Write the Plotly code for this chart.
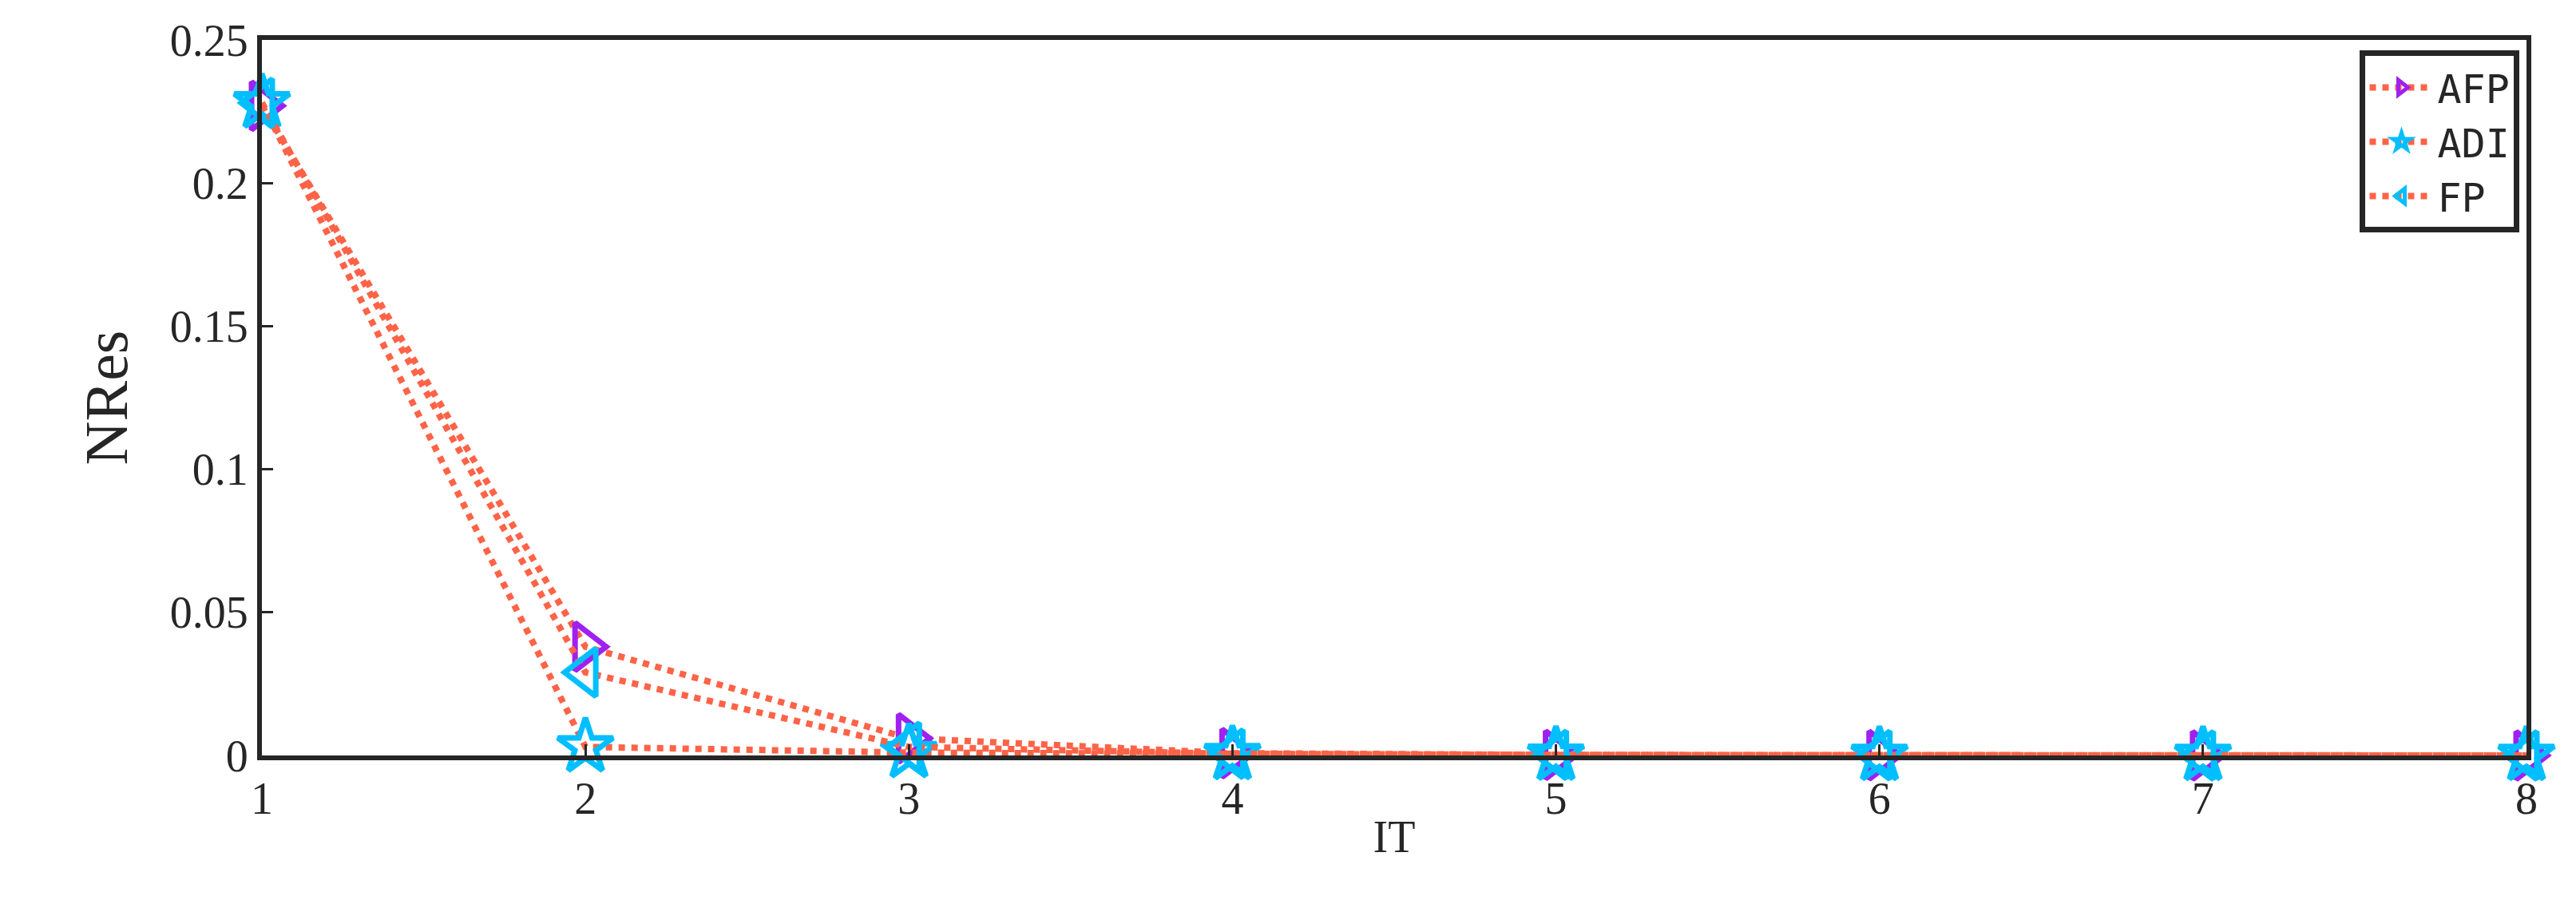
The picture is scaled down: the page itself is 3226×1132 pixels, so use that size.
import plotly.graph_objects as go

it = [1, 2, 3, 4, 5, 6, 7, 8]
afp = [0.227, 0.038, 0.006, 0.0008, 0.0002, 0.0001, 0.0, 0.0]
adi = [0.228, 0.003, 0.001, 0.0003, 0.0001, 0.0, 0.0, 0.0]
fp = [0.228, 0.029, 0.003, 0.0006, 0.0002, 0.0001, 0.0, 0.0]
y_ticks = [0, 0.05, 0.1, 0.15, 0.2, 0.25]
y_labels = ["0", "0.05", "0.1", "0.15", "0.2", "0.25"]

line_col = "#FF6347"
series = [
    ("AFP", afp, "triangle-right-open", "#A020F0"),
    ("ADI", adi, "star-open", "#00BFFF"),
    ("FP", fp, "triangle-left-open", "#00BFFF"),
]

fig = go.Figure()
for name, vals, sym, col in series:
    fig.add_trace(go.Scatter(
        x=it, y=vals, name=name, mode="lines+markers",
        line=dict(color=line_col, width=8, dash="dot"),
        marker=dict(symbol=sym, size=52, color=col, line=dict(width=7, color=col)),
        cliponaxis=False,
    ))

axis = dict(showgrid=False, zeroline=False, showline=True, linecolor="#262626",
            linewidth=6, mirror=True, ticks="inside", ticklen=14, tickwidth=3,
            tickcolor="#262626", tickfont=dict(size=56, family="Liberation Serif", color="#262626"))
fig.update_layout(
    width=3226, height=1132, plot_bgcolor="white", paper_bgcolor="white",
    margin=dict(l=320, r=70, t=40, b=194),
    xaxis=dict(axis, range=[1, 8], dtick=1,
               title=dict(text="IT", standoff=0, font=dict(size=56, family="Liberation Serif", color="#262626"))),
    yaxis=dict(axis, range=[0, 0.25], tickvals=y_ticks, ticktext=y_labels,
               title=dict(text="NRes", standoff=30, font=dict(size=76, family="Liberation Serif", color="#262626"))),
    legend=dict(x=0.997, y=0.985, xanchor="right", yanchor="top", bgcolor="white",
                bordercolor="#262626", borderwidth=7,
                font=dict(size=50, family="DejaVu Sans Mono", color="#262626"), itemwidth=80),
    showlegend=True,
)
fig.write_html("out.html")
